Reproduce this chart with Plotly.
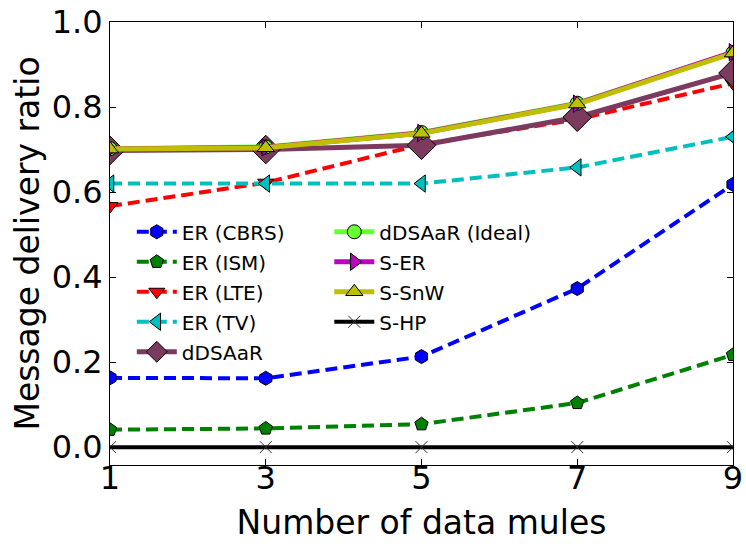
import plotly.graph_objects as go

mules = [1, 3, 5, 7, 9]

er_cbrs = [0.163, 0.162, 0.213, 0.373, 0.618]
er_ism = [0.041, 0.044, 0.054, 0.104, 0.217]
er_lte = [0.567, 0.622, 0.712, 0.771, 0.856]
er_tv = [0.620, 0.620, 0.620, 0.658, 0.730]
ddsaar = [0.698, 0.700, 0.710, 0.776, 0.880]
ddsaar_ideal = [0.702, 0.706, 0.740, 0.809, 0.928]
s_er = [0.701, 0.705, 0.739, 0.808, 0.929]
s_snw = [0.701, 0.704, 0.738, 0.807, 0.927]
s_hp = [0.0, 0.0, 0.0, 0.0, 0.0]

FONT = "DejaVu Sans"

series = [
    ("ER (CBRS)", er_cbrs, "#0000ff", "hexagon", 14, "dash", 4, "legend"),
    ("ER (ISM)", er_ism, "#008000", "pentagon", 14, "dash", 4, "legend"),
    ("ER (LTE)", er_lte, "#ff0000", "triangle-down", 14, "dash", 4, "legend"),
    ("ER (TV)", er_tv, "#00bfbf", "triangle-left", 15, "dash", 4, "legend"),
    ("dDSAaR", ddsaar, "#7b3a5e", "diamond", 22, "solid", 5, "legend"),
    ("dDSAaR (Ideal)", ddsaar_ideal, "#66ff33", "circle", 14, "solid", 5, "legend2"),
    ("S-ER", s_er, "#bf00bf", "triangle-right", 15, "solid", 5, "legend2"),
    ("S-SnW", s_snw, "#bfbf00", "triangle-up", 15, "solid", 5, "legend2"),
    ("S-HP", s_hp, "#000000", "x-thin", 12, "solid", 4, "legend2"),
]

fig = go.Figure()
for name, vals, color, sym, size, dash, lw, leg in series:
    if sym == "x-thin":
        marker = dict(symbol=sym, size=size, color="black",
                      line=dict(color="#333333", width=1))
    else:
        marker = dict(symbol=sym, size=size, color=color,
                      line=dict(color="black", width=1))
    fig.add_trace(go.Scatter(
        x=mules, y=vals, name=name, mode="lines+markers",
        line=dict(color=color, width=lw,
                  dash="12px,6px" if dash == "dash" else "solid"),
        marker=marker, legend=leg, legendgroup=name,
    ))

axis_common = dict(
    showline=True, linecolor="black", linewidth=1, mirror="ticks",
    ticks="inside", ticklen=6, tickcolor="black", showgrid=False,
    zeroline=False, automargin=False,
    tickfont=dict(family=FONT, size=32, color="black"),
)

fig.update_layout(
    width=746, height=544,
    margin=dict(l=110, r=13, t=22, b=79),
    paper_bgcolor="white", plot_bgcolor="white",
    font=dict(family=FONT, color="black"),
    xaxis=dict(range=[1, 9], tickvals=mules, ticklabelstandoff=-15,
               title=dict(text="Number of data mules",
                          font=dict(family=FONT, size=33), standoff=14),
               **axis_common),
    yaxis=dict(range=[-0.042, 1.0], tickvals=[0, 0.2, 0.4, 0.6, 0.8, 1.0],
               tickformat=".1f",
               title=dict(text="Message delivery ratio",
                          font=dict(family=FONT, size=33), standoff=2),
               **axis_common),
    legend=dict(x=0.035, y=0.5705, xanchor="left", yanchor="top",
                bgcolor="rgba(0,0,0,0)", font=dict(family=FONT, size=20),
                tracegroupgap=1, itemwidth=40),
    legend2=dict(x=0.352, y=0.5705, xanchor="left", yanchor="top",
                 bgcolor="rgba(0,0,0,0)", font=dict(family=FONT, size=20),
                 tracegroupgap=1, itemwidth=40),
    showlegend=True,
)

fig.write_html("out.html")
